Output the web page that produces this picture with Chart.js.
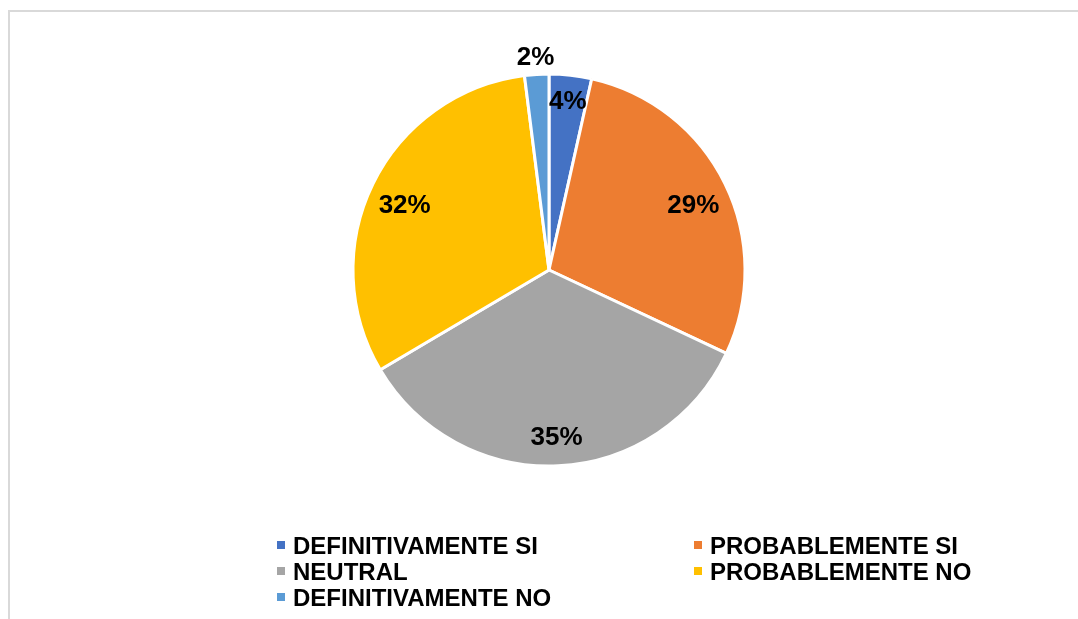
<!DOCTYPE html>
<html lang="es">
<head>
  <meta charset="UTF-8">
  <title>Grafico circular</title>
  <script src="https://cdn.jsdelivr.net/npm/chart.js"></script>
  <style>
    html, body { margin: 0; padding: 0; background: #fff; overflow: hidden; }
    #wrap { position: relative; width: 1078px; height: 619px; }
    #marco {
      position: absolute; left: 8px; top: 10px; width: 1100px; height: 700px;
      border-left: 2px solid #d9d9d9; border-top: 2px solid #d9d9d9;
      pointer-events: none;
    }
    canvas { position: absolute; left: 0; top: 0; }
  </style>
</head>
<body>
  <div id="wrap">
    <canvas id="grafico" width="1078" height="619"></canvas>
    <div id="marco"></div>
  </div>

  <script>
    // datos
    const categorias = ['DEFINITIVAMENTE SI', 'PROBABLEMENTE SI', 'NEUTRAL', 'PROBABLEMENTE NO', 'DEFINITIVAMENTE NO'];
    const respuestas = [7, 57, 69, 63, 4];
    const colores = ['#4472C4', '#ED7D31', '#A5A5A5', '#FFC000', '#5B9BD5'];

    const fuente = '"Liberation Sans", Arial, sans-serif';

    // etiquetas de porcentaje sobre cada sector
    const etiquetas = {
      id: 'etiquetas',
      afterDatasetsDraw(chart) {
        const ctx = chart.ctx;
        const meta = chart.getDatasetMeta(0);
        const total = respuestas.reduce((a, b) => a + b, 0);
        ctx.save();
        ctx.font = 'bold 26px ' + fuente;
        ctx.fillStyle = '#000';
        ctx.textAlign = 'center';
        ctx.textBaseline = 'middle';
        meta.data.forEach((arc, i) => {
          const pct = Math.round(respuestas[i] * 100 / total);
          const p = arc.getProps(['x', 'y', 'startAngle', 'endAngle', 'outerRadius']);
          const mid = (p.startAngle + p.endAngle) / 2;
          // sectores pequeños fuera, medianos cerca del borde, grandes un poco mas abajo
          let r = p.outerRadius * 0.82, dy = 7;
          if (pct < 3) { r = p.outerRadius + 18; dy = 1; }
          else if (pct < 10) { r = p.outerRadius * 0.87; dy = 1; }
          ctx.fillText(pct + '%', p.x + Math.cos(mid) * r, p.y + Math.sin(mid) * r + dy);
        });
        ctx.restore();
      }
    };

    // leyenda en dos columnas, como en el original
    const leyenda = {
      id: 'leyenda',
      afterDraw(chart) {
        const ctx = chart.ctx;
        const cols = [277, 694];
        const filaBase = 554;
        const paso = 26;
        ctx.save();
        ctx.font = 'bold 24px ' + fuente;
        ctx.textBaseline = 'alphabetic';
        ctx.textAlign = 'left';
        categorias.forEach((cat, i) => {
          const x = cols[i % 2];
          const y = filaBase + Math.floor(i / 2) * paso;
          ctx.fillStyle = colores[i];
          ctx.fillRect(x, y - 13, 8, 8);
          ctx.fillStyle = '#000';
          ctx.fillText(cat, x + 16, y);
        });
        ctx.restore();
      }
    };

    new Chart(document.getElementById('grafico'), {
      type: 'pie',
      data: {
        labels: categorias,
        datasets: [{
          data: respuestas,
          backgroundColor: colores,
          borderColor: '#ffffff',
          borderWidth: 3
        }]
      },
      options: {
        responsive: false,
        animation: false,
        radius: 196,
        layout: { padding: { top: 40, bottom: 119, left: 20, right: 0 } },
        plugins: {
          legend: { display: false },
          tooltip: { enabled: false }
        }
      },
      plugins: [etiquetas, leyenda]
    });
  </script>
</body>
</html>
